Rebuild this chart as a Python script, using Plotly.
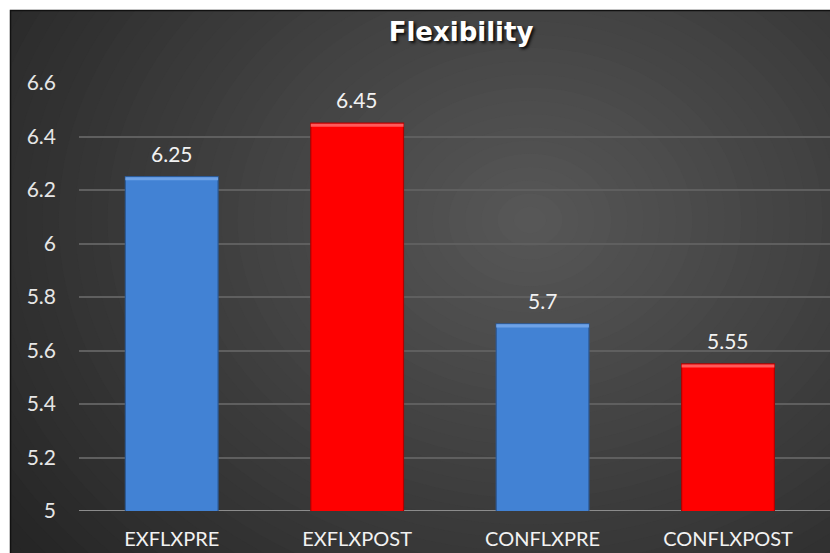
import plotly.graph_objects as go

# ---- data ----
categories = ["EXFLXPRE", "EXFLXPOST", "CONFLXPRE", "CONFLXPOST"]
values = [6.25, 6.45, 5.7, 5.55]
bar_colors = ["#4282d4", "#ff0000", "#4282d4", "#ff0000"]
bar_edges = ["#2c5a96", "#b00000", "#2c5a96", "#b00000"]
bevel_colors = ["#6ea2e6", "#ff5a5a", "#6ea2e6", "#ff5a5a"]
y_ticks = [5, 5.2, 5.4, 5.6, 5.8, 6, 6.2, 6.4, 6.6]
y_ticklabels = ["5", "5.2", "5.4", "5.6", "5.8", "6", "6.2", "6.4", "6.6"]
title_text = "Flexibility"

# ---- geometry ----
W, H = 830, 553
L, R, T, B = 79, 0, 83, 42
pw, ph = W - L - R, H - T - B


def px2x(px):
    return (px - L) / pw


def py2y(py):
    return (H - B - py) / ph


shapes = []
# dark chart area base
shapes.append(dict(type="rect", xref="paper", yref="paper", layer="below",
                   x0=px2x(10), x1=px2x(W), y0=py2y(H), y1=py2y(10),
                   fillcolor="#262626", line=dict(width=0)))
# radial gradient via concentric ellipses
cx, cy = 530, 220
rx0, ry0 = 650, 530
c_out, c_in = 38, 88
N = 40
for i in range(N):
    t = i / N
    rx, ry = rx0 * (1 - t), ry0 * (1 - t)
    c = int(round(c_out + (c_in - c_out) * t))
    shapes.append(dict(type="circle", xref="paper", yref="paper", layer="below",
                       x0=px2x(cx - rx), x1=px2x(cx + rx),
                       y0=py2y(cy + ry), y1=py2y(cy - ry),
                       fillcolor=f"rgb({c},{c},{c})", line=dict(width=0)))
# white margins (top and left)
shapes.append(dict(type="rect", xref="paper", yref="paper", layer="below",
                   x0=px2x(-50), x1=px2x(W + 50), y0=py2y(10), y1=py2y(-50),
                   fillcolor="white", line=dict(width=0)))
shapes.append(dict(type="rect", xref="paper", yref="paper", layer="below",
                   x0=px2x(-50), x1=px2x(10), y0=py2y(H + 50), y1=py2y(-50),
                   fillcolor="white", line=dict(width=0)))
# thin border of chart area
shapes.append(dict(type="rect", xref="paper", yref="paper", layer="below",
                   x0=px2x(10.5), x1=px2x(W + 5), y0=py2y(H + 5), y1=py2y(10.5),
                   fillcolor="rgba(0,0,0,0)", line=dict(color="#111111", width=1.5)))

fig = go.Figure()
fig.add_trace(go.Bar(
    x=categories, y=values,
    marker=dict(color=bar_colors, line=dict(color=bar_edges, width=1.2)),
    hoverinfo="skip",
))
# subtle top bevel highlight on each bar
fig.add_trace(go.Bar(
    x=categories, y=[0.012] * len(values), base=[v - 0.014 for v in values],
    marker=dict(color=bevel_colors, line=dict(width=0)),
    hoverinfo="skip",
))

annotations = []
for c, v in zip(categories, values):
    annotations.append(dict(x=c, y=v, text=f"{v:g}", showarrow=False,
                            yanchor="bottom", yshift=9,
                            font=dict(family="Lato", size=21, color="#f2f2f2")))

fig.update_layout(
    width=W, height=H,
    margin=dict(l=L, r=R, t=T, b=B, pad=0),
    paper_bgcolor="white",
    plot_bgcolor="rgba(0,0,0,0)",
    barmode="overlay",
    bargap=0.5,
    showlegend=False,
    shapes=shapes,
    annotations=annotations,
    title=dict(text=f"<b>{title_text}</b>", xref="container", yref="container",
               x=461 / W, y=1 - 32 / H, xanchor="center", yanchor="middle",
               font=dict(family="DejaVu Sans", size=26, color="#ffffff",
                         shadow="2px 2px 3px rgba(0,0,0,0.85)")),
    xaxis=dict(
        range=[-0.5, 3.55], showgrid=False, zeroline=False,
        showline=False, ticks="",
        tickfont=dict(family="Lato", size=20, color="#f2f2f2"),
        ticklabelstandoff=14,
    ),
    yaxis=dict(
        range=[5, 6.6], tickvals=y_ticks, ticktext=y_ticklabels,
        showgrid=True, gridcolor="#5f5f5f", gridwidth=1.5,
        zeroline=False, showline=False, ticks="",
        tickfont=dict(family="Lato", size=21, color="#e6e6e6"),
        ticklabelstandoff=22,
    ),
)
# light baseline at y=5
fig.add_shape(type="line", xref="paper", yref="y", x0=0, x1=1, y0=5, y1=5,
              line=dict(color="#8c8c8c", width=2), layer="between")

fig.write_html("out.html")
